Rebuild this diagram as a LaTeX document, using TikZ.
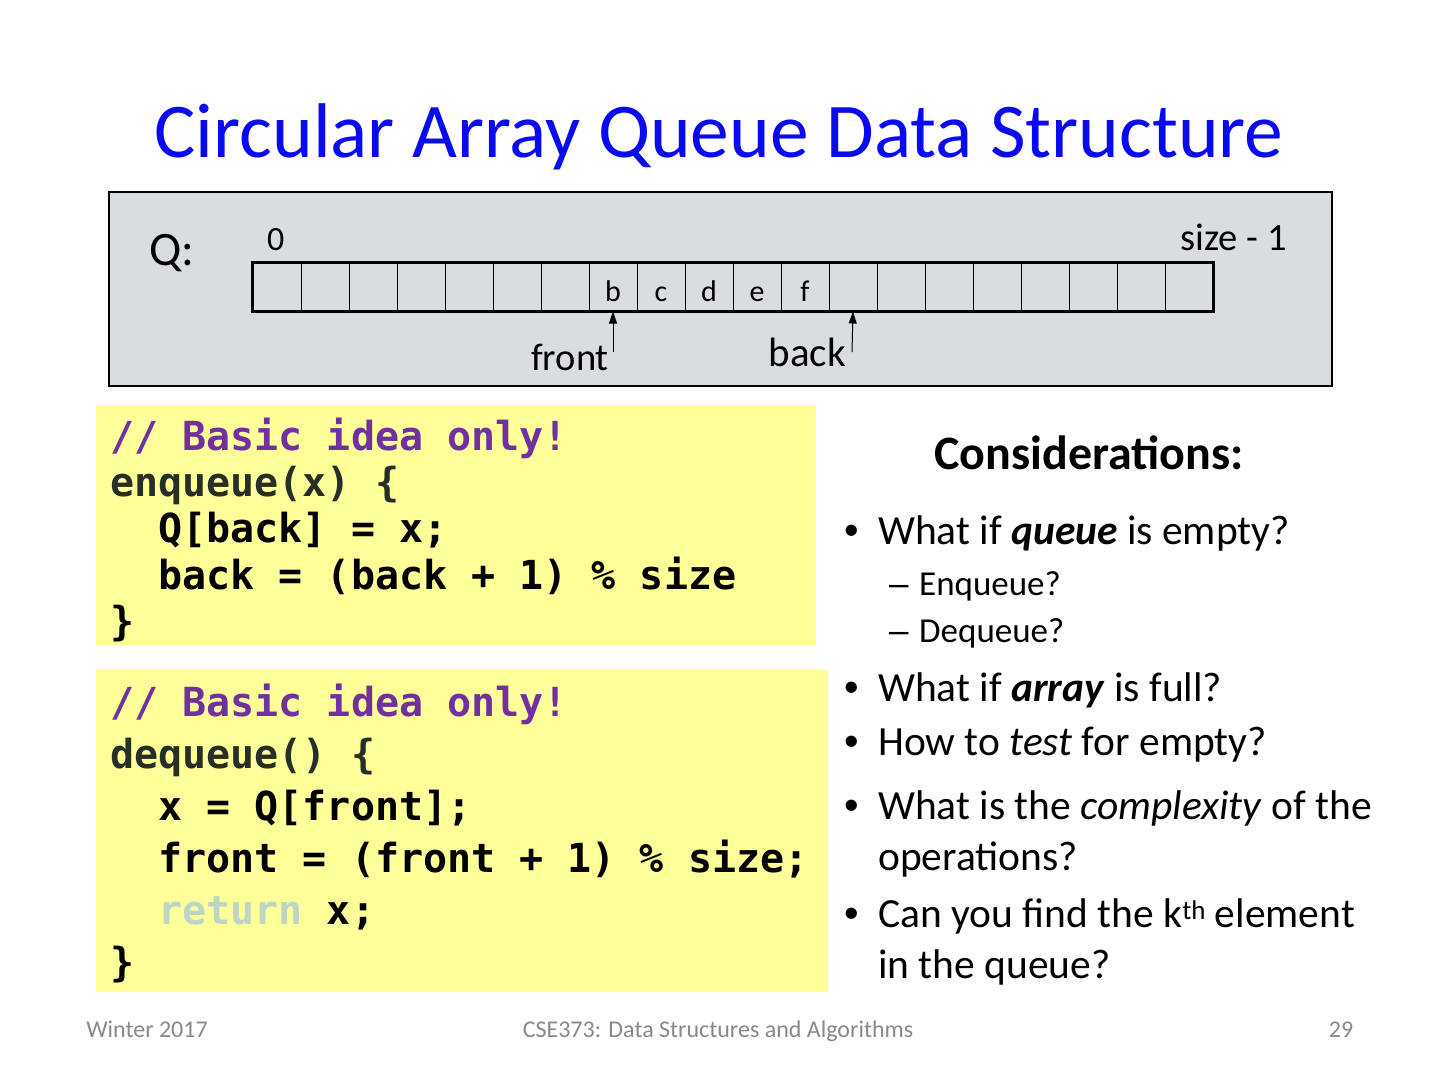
\documentclass[tikz,border=0pt]{standalone}
\usepackage{fontspec}
\setmainfont{Carlito}
\newfontfamily\codefont{DejaVu Sans Mono}
\newfontfamily\arialfont{Liberation Sans}
\usetikzlibrary{arrows.meta}
\definecolor{titleblue}{RGB}{10,10,240}
\definecolor{boxgray}{RGB}{217,220,224}
\definecolor{codeyellow}{RGB}{255,255,153}
\definecolor{cmtpurple}{RGB}{112,48,160}
\definecolor{fndark}{RGB}{38,46,38}
\definecolor{retgray}{RGB}{190,212,196}
\definecolor{footgray}{RGB}{137,137,137}
\tikzset{
  txt/.style={inner sep=0pt, anchor=base west},
  code/.style={txt, font=\codefont\bfseries\fontsize{40}{40}\selectfont},
  body/.style={txt, font=\fontsize{41.5}{41.5}\selectfont},
  bul/.style={txt, font=\arialfont\fontsize{41.5}{41.5}\selectfont},
  sub/.style={txt, font=\fontsize{35}{35}\selectfont},
  subdash/.style={txt, font=\arialfont\fontsize{35}{35}\selectfont},
  lbl/.style={inner sep=0pt, anchor=base, font=\fontsize{34}{34}\selectfont},
  cell/.style={draw, line width=1pt, minimum width=48pt, minimum height=48pt, inner sep=0pt, anchor=center, font=\fontsize{30}{30}\selectfont},
  foot/.style={inner sep=0pt, anchor=base, text=footgray, font=\fontsize{24}{24}\selectfont},
  ptr/.style={line width=1pt, -{Triangle[length=12pt,width=8pt]}}
}
\begin{document}
\begin{tikzpicture}[x=1pt,y=-1pt]
\useasboundingbox (0,0) rectangle (1440,1080);
\fill[white] (0,0) rectangle (1440,1080);
% title
\node[inner sep=0pt, anchor=base, text=titleblue, font=\fontsize{77.5}{77.5}\selectfont] (title) at (719,157) {Circular Array Queue Data Structure};
% gray box
\node[draw, line width=2pt, fill=boxgray, minimum width=1223pt, minimum height=194pt, inner sep=0pt, anchor=north west] (qbox) at (108,191) {};
\node[inner sep=0pt, anchor=base west, font=\fontsize{48}{48}\selectfont] (qlbl) at (149,265) {Q:};
\node[lbl, anchor=base west] (zero) at (267,250) {0};
\node[lbl, anchor=base east, font=\fontsize{38.5}{38.5}\selectfont] (sizem) at (1287,250) {size - 1};
% cells
\foreach \i in {0,...,19} {
  \node[cell] (c\i) at ({253+48*\i+24},287) {};
}
\foreach \i/\t in {7/b,8/c,9/d,10/e,11/f} {
  \node[inner sep=0pt, anchor=base, font=\fontsize{30}{30}\selectfont] (t\i) at ({253+48*\i+24},301) {\t};
}
\draw[line width=2.5pt] (c0.north west) rectangle (c19.south east);
% pointers
\coordinate (fbase) at (613,352);
\coordinate (bbase) at (852,352);
\draw[ptr] (fbase) -- (c7.south);
\draw[ptr] (bbase) -- (c12.south);
\node[lbl, anchor=base east, font=\fontsize{38.5}{38.5}\selectfont] (front) at (609,370) {front};
\node[lbl, anchor=base east, font=\fontsize{41}{41}\selectfont] (back) at (846,366) {back};
% code box 1
\node[fill=codeyellow, minimum width=720pt, minimum height=239pt, inner sep=0pt, anchor=north west] (cb1) at (96,406) {};
\node[code, text=cmtpurple] (e1) at (110,450) {// Basic idea only!};
\node[code, text=fndark] (e2) at (110,496) {enqueue(x) \{};
\node[code] (e3) at (110,542) {\ \ Q[back] = x;};
\node[code] (e4) at (110,589) {\ \ back = (back + 1) \% size};
\node[code] (e5) at (110,635) {\}};
% code box 2
\node[fill=codeyellow, minimum width=732pt, minimum height=322pt, inner sep=0pt, anchor=north west] (cb2) at (96,670) {};
\node[code, text=cmtpurple] (d1) at (110,716) {// Basic idea only!};
\node[code, text=fndark] (d2) at (110,768) {dequeue() \{};
\node[code] (d3) at (110,820) {\ \ x = Q[front];};
\node[code] (d4) at (110,872) {\ \ front = (front + 1) \% size;};
\node[code] (d5) at (110,924) {\ \ \textcolor{retgray}{return} x;};
\node[code] (d6) at (110,976) {\}};
% considerations
\node[inner sep=0pt, anchor=base, font=\bfseries\fontsize{48}{48}\selectfont] (cons) at (1089,469) {Considerations:};
\node[bul] (b1) at (844,544) {•};
\node[body] (l1) at (878,544) {What if \textbf{\textit{queue}} is empty?};
\node[subdash] (s1d) at (889,595) {–};
\node[sub] (s1) at (919,595) {Enqueue?};
\node[subdash] (s2d) at (889,642) {–};
\node[sub] (s2) at (919,642) {Dequeue?};
\node[bul] (b2) at (844,701) {•};
\node[body] (l2) at (878,701) {What if \textbf{\textit{array}} is full?};
\node[bul] (b3) at (844,755) {•};
\node[body] (l3) at (878,755) {How to \textit{test} for empty?};
\node[bul] (b4) at (844,819) {•};
\node[body] (l4) at (878,819) {What is the \textit{complexity} of the};
\node[body] (l4b) at (878,870) {operations?};
\node[bul] (b5) at (844,927) {•};
\node[body] (l5) at (878,927) {Can you find the k\raisebox{8pt}{\fontsize{27}{27}\selectfont th} element};
\node[body] (l5b) at (878,978) {in the queue?};
% footer
\node[foot] (f1) at (147,1037) {Winter 2017};
\node[foot] (f2) at (718,1037) {CSE373: Data Structures and Algorithms};
\node[foot] (f3) at (1341,1037) {29};
\end{tikzpicture}
\end{document}
